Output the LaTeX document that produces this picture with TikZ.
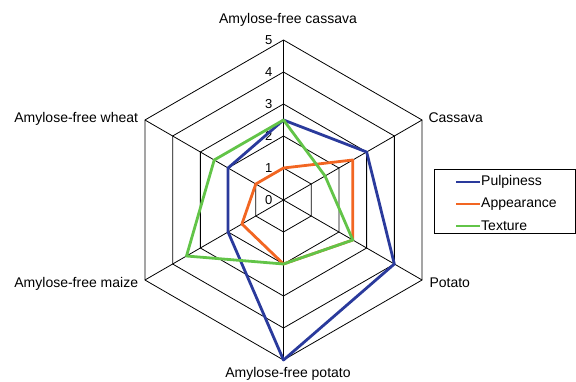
\documentclass[tikz,border=0pt]{standalone}
\usepackage{fontspec}
\setmainfont{Liberation Sans}
\usetikzlibrary{calc}
\definecolor{pulpblue}{RGB}{42,58,156}
\definecolor{apporange}{RGB}{242,102,34}
\definecolor{texgreen}{RGB}{98,196,72}
\begin{document}
\begin{tikzpicture}[x=1pt,y=1pt,
  gridline/.style={draw=black,line width=0.8pt},
  series/.style={line width=2.8pt,line join=round},
  axislabel/.style={inner sep=0pt,font=\fontsize{14}{16}\selectfont},
  levellabel/.style={inner sep=0pt,anchor=east,font=\fontsize{13}{15}\selectfont},
  legendtext/.style={inner sep=0pt,anchor=west,font=\fontsize{14}{16}\selectfont}]
\useasboundingbox (0,0) rectangle (576,381);
\coordinate (O) at (283.5,181);
% grid hexagons
\foreach \k in {1,...,5}{
  \draw[gridline,shift={(O)}] (90:32*\k) -- (30:32*\k) -- (-30:32*\k) -- (-90:32*\k) -- (210:32*\k) -- (150:32*\k) -- cycle;
}
% spokes
\foreach \a/\n in {90/a1,30/a2,-30/a3,-90/a4,210/a5,150/a6}{
  \coordinate (\n) at ($(O)+(\a:160)$);
  \draw[gridline] (O) -- (\n);
}
% level labels
\foreach \k in {0,...,5}{
  \node[levellabel] (lv\k) at (272.5,181+32*\k) {\k};
}
% axis labels
\node[axislabel,anchor=base] (lab1) at (288,357.7) {Amylose-free cassava};
\node[axislabel,anchor=base west] (lab2) at (428.3,258.7) {Cassava};
\node[axislabel,anchor=base west] (lab3) at (429.3,93.7) {Potato};
\node[axislabel,anchor=base] (lab4) at (288,3.4) {Amylose-free potato};
\node[axislabel,anchor=base east] (lab5) at (138.3,93.7) {Amylose-free maize};
\node[axislabel,anchor=base east] (lab6) at (138.3,258.7) {Amylose-free wheat};
% data series
\draw[series,pulpblue,shift={(O)}] (90:2.5*32) -- (30:3*32) -- (-30:4*32) -- (-90:5*32) -- (210:2*32) -- (150:2*32) -- cycle;
\draw[series,apporange,shift={(O)}] (90:1*32) -- (30:2.5*32) -- (-30:2.5*32) -- (-90:2*32) -- (210:1.5*32) -- (150:1*32) -- cycle;
\draw[series,texgreen,shift={(O)}] (90:2.5*32) -- (30:1.5*32) -- (-30:2.5*32) -- (-90:2*32) -- (210:3.5*32) -- (150:2.5*32) -- cycle;
% legend
\node[draw=black,line width=0.8pt,minimum width=141pt,minimum height=64pt,inner sep=0pt,anchor=south west] (legend) at (434,147) {};
\coordinate (l1a) at (456,199); \coordinate (l1b) at (480,199);
\coordinate (l2a) at (456,177); \coordinate (l2b) at (480,177);
\coordinate (l3a) at (456,155); \coordinate (l3b) at (480,155);
\draw[series,pulpblue] (l1a) -- (l1b);
\draw[series,apporange] (l2a) -- (l2b);
\draw[series,texgreen] (l3a) -- (l3b);
\node[legendtext] (t1) at (481,199) {Pulpiness};
\node[legendtext] (t2) at (481,177) {Appearance};
\node[legendtext] (t3) at (481,155) {Texture};
\end{tikzpicture}
\end{document}
